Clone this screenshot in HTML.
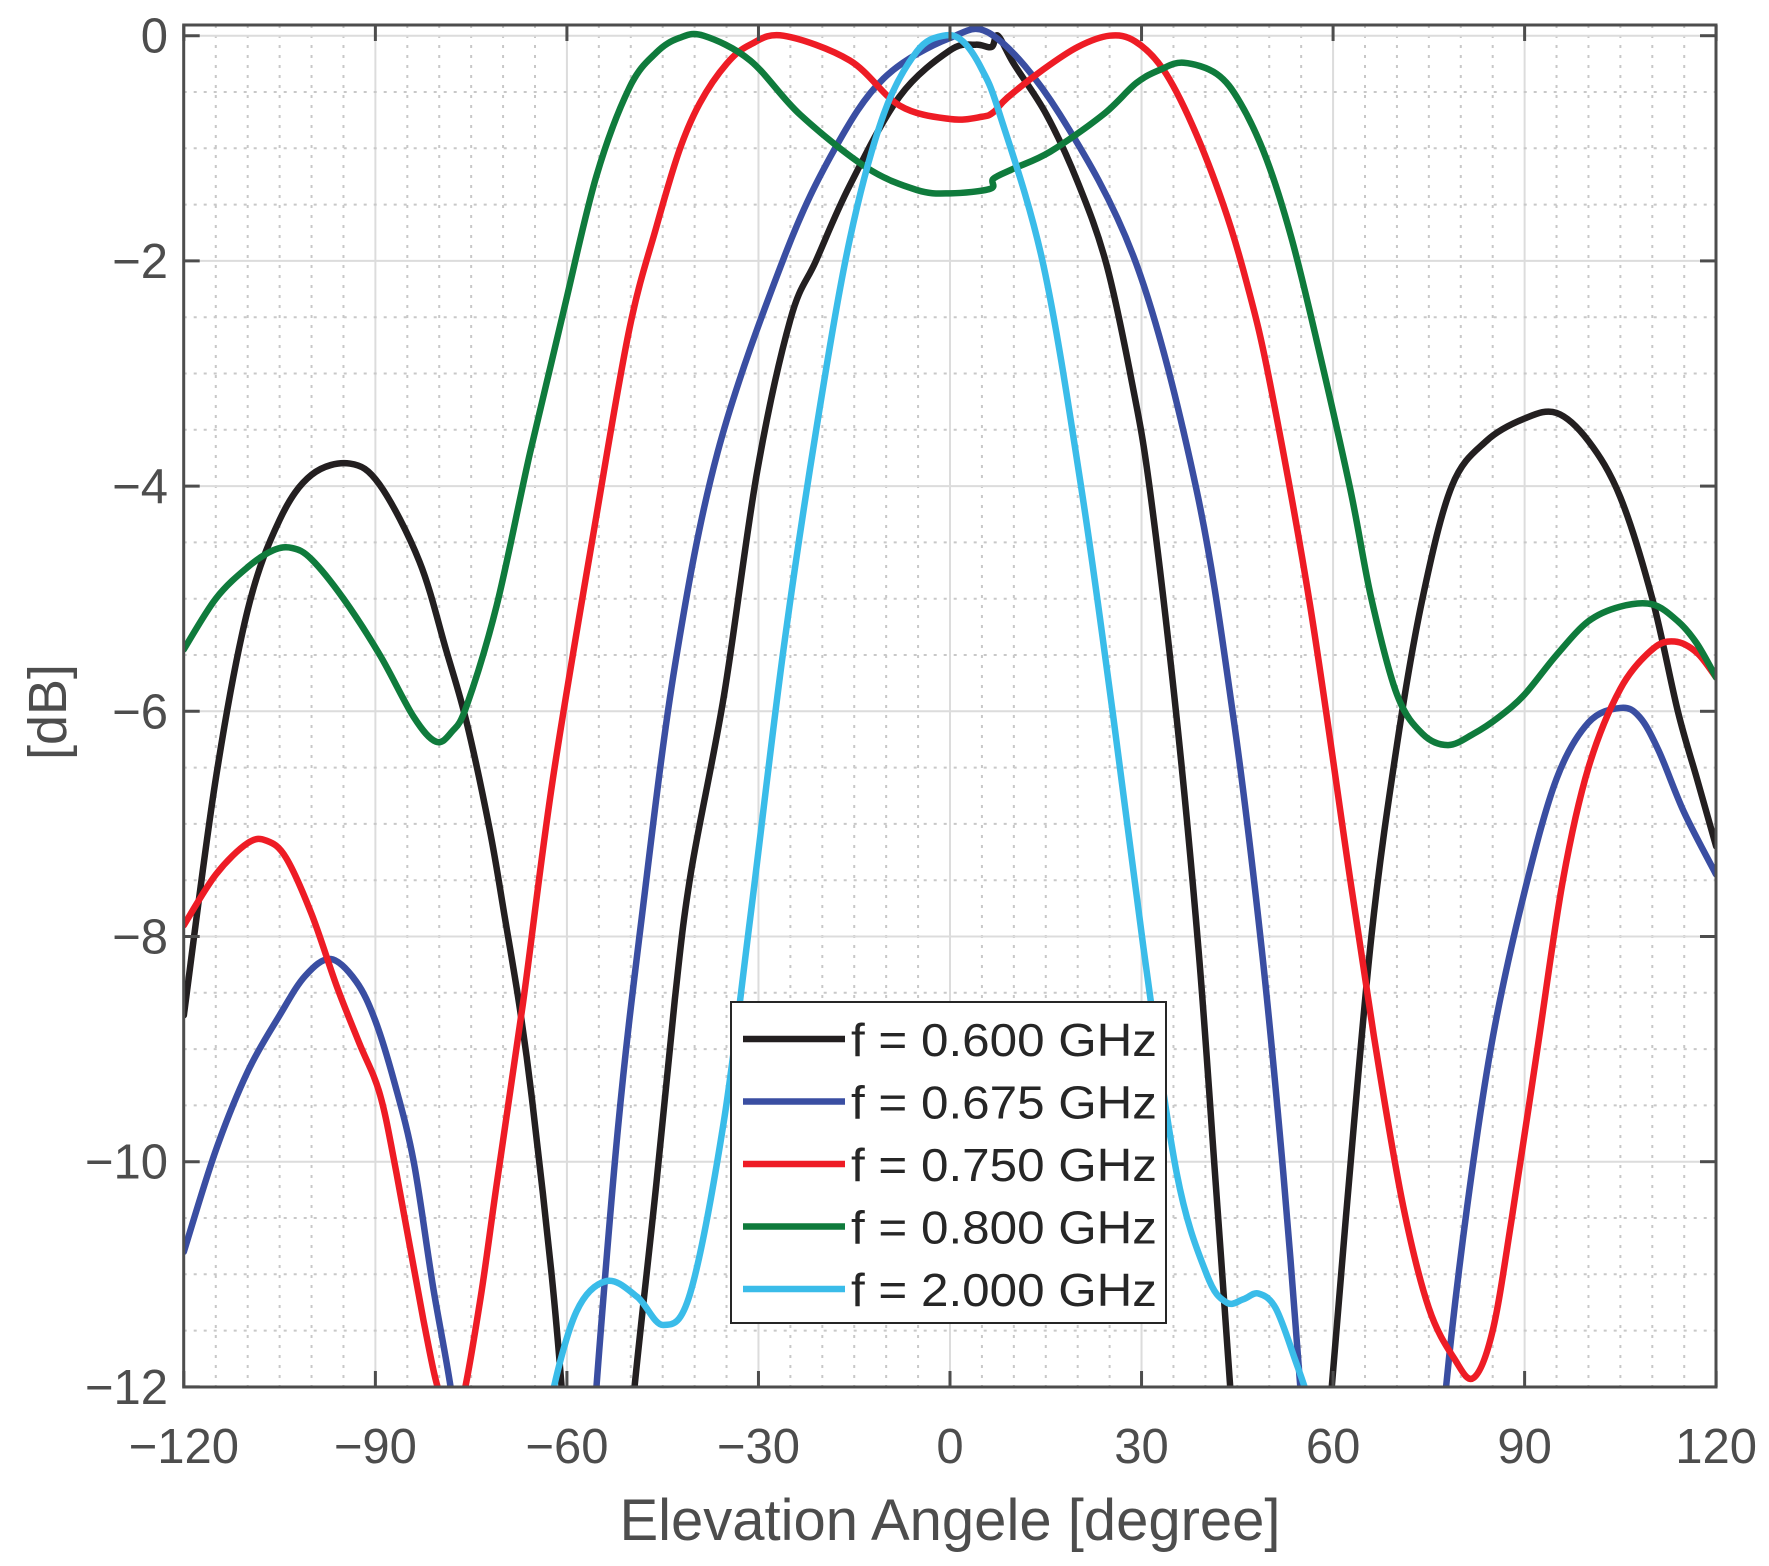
<!DOCTYPE html>
<html><head><meta charset="utf-8"><style>
html,body{margin:0;padding:0;background:#fff;}
svg{display:block;font-family:"Liberation Sans",Arial,sans-serif;}
</style></head><body>
<svg id="s" width="1769" height="1566" viewBox="0 0 1769 1566" xmlns="http://www.w3.org/2000/svg">
<defs><clipPath id="c"><rect x="183.7" y="25" width="1532.3" height="1362"/></clipPath></defs>
<rect x="0" y="0" width="1769" height="1566" fill="#fff"/>
<g id="grid"></g>
<g id="curves" clip-path="url(#c)" fill="none" stroke-width="6.5" stroke-linejoin="round" stroke-linecap="round"></g>
<rect x="183.7" y="25" width="1532.3" height="1362" fill="none" stroke="#4d4d4d" stroke-width="3"/>
<g id="ticks" stroke="#4d4d4d" stroke-width="3"></g>
<g id="labels" fill="#4d4d4d" font-size="49"></g>
<text x="950" y="1540" text-anchor="middle" fill="#4d4d4d" font-size="58">Elevation Angele [degree]</text>
<text transform="translate(66,712) rotate(-90)" text-anchor="middle" fill="#4d4d4d" font-size="54">[dB]</text>
<g id="legend">
<rect x="731" y="1002" width="435" height="321" fill="#fff" stroke="#262626" stroke-width="2"/>
</g>
</svg>
<script>
const X=d=>950+d*6.3846, Y=v=>35.7-v*112.6;
const NS="http://www.w3.org/2000/svg";
function el(p,t,a,txt){const e=document.createElementNS(NS,t);for(const k in a)e.setAttribute(k,a[k]);if(txt!==undefined)e.textContent=txt;document.getElementById(p).appendChild(e);return e;}
for(let d=-115;d<120;d+=5){const maj=d%30==0;el("grid","line",{x1:X(d),x2:X(d),y1:25,y2:1387,stroke:maj?"#dcdcdc":"#c8c8c8","stroke-width":2,"stroke-dasharray":maj?"none":"3,7"});}
for(let v=0;v>-12;v-=0.5){const maj=Math.abs(v%2)<1e-9;el("grid","line",{x1:183.7,x2:1716,y1:Y(v),y2:Y(v),stroke:maj?"#dcdcdc":"#c8c8c8","stroke-width":2,"stroke-dasharray":maj?"none":"3,7"});}
for(let d=-120;d<=120;d+=30){el("ticks","line",{x1:X(d),x2:X(d),y1:1387,y2:1371});el("ticks","line",{x1:X(d),x2:X(d),y1:25,y2:41});
 el("labels","text",{x:X(d),y:1463,"text-anchor":"middle"},(d<0?"\u2212":"")+Math.abs(d));}
for(let v=0;v>=-12;v-=2){el("ticks","line",{x1:183.7,x2:199.7,y1:Y(v),y2:Y(v)});el("ticks","line",{x1:1716,x2:1700,y1:Y(v),y2:Y(v)});
 el("labels","text",{x:168,y:Y(v)+17,"text-anchor":"end"},(v<0?"\u2212":"")+Math.abs(v));}
function path(pts){const P=pts.map(p=>[X(p[0]),Y(p[1])]);let s="M"+P[0][0]+","+P[0][1];
 for(let i=0;i<P.length-1;i++){const p0=P[i-1]||P[i],p1=P[i],p2=P[i+1],p3=P[i+2]||P[i+1];
  s+=" C"+(p1[0]+(p2[0]-p0[0])/6)+","+(p1[1]+(p2[1]-p0[1])/6)+" "+(p2[0]-(p3[0]-p1[0])/6)+","+(p2[1]-(p3[1]-p1[1])/6)+" "+p2[0]+","+p2[1];}
 return s;}
const black1=[[-120,-8.7],[-115,-6.6],[-110,-5.1],[-105,-4.3],[-100,-3.9],[-94,-3.8],[-89.3,-3.99],[-83.1,-4.67],[-78.9,-5.46],[-75.7,-6.1],[-72.1,-7.05],[-69.7,-7.84],[-67.4,-8.63],[-65.5,-9.43],[-62.4,-11.0],[-60.6,-12.17],[-60,-12.8]];
const black2=[[-50.5,-13],[-49.7,-12.17],[-46,-10.2],[-43.1,-8.56],[-40.6,-7.44],[-35.4,-5.86],[-30.2,-3.87],[-25,-2.52],[-21,-2.0],[-15.7,-1.33],[-7.9,-0.54],[0,-0.13],[4,-0.08],[6.5,-0.1],[7.5,0],[10,-0.25],[15.1,-0.7],[20,-1.3],[24.5,-2.03],[28.5,-3.08],[31.3,-4.03],[35.5,-6.06],[38.9,-8.1],[41.5,-10.1],[44.1,-12.17],[45,-13]];
const black3=[[58.5,-13],[59.5,-12.2],[62,-10.5],[66,-8],[70,-6.3],[74,-5],[78.6,-4],[84,-3.6],[90,-3.4],[95,-3.35],[100,-3.6],[105,-4.1],[110,-5],[114,-6],[117,-6.6],[120,-7.2]];
const blue1=[[-120,-10.8],[-115,-9.9],[-110,-9.2],[-105,-8.7],[-101,-8.35],[-97,-8.2],[-93,-8.4],[-90,-8.75],[-87,-9.3],[-84,-10],[-81,-11.1],[-77.8,-12.17],[-77,-13]];
const blue2=[[-56.3,-13],[-55.6,-12.17],[-52,-9.7],[-48.3,-7.84],[-43.1,-5.6],[-36.4,-3.7],[-26,-1.97],[-18.2,-1.02],[-10.4,-0.38],[0,-0.02],[6.8,0],[17.2,-0.7],[29.2,-2.03],[38.6,-4.03],[44.4,-6.06],[48.8,-8.1],[52.2,-10.1],[55.1,-12.17],[56,-13]];
const blue3=[[76.5,-13],[77.7,-12],[81,-10.4],[85,-8.9],[90,-7.6],[95,-6.6],[100,-6.1],[105,-5.97],[108,-6.05],[111,-6.35],[115,-6.9],[120,-7.45]];
const red1=[[-120,-7.9],[-115,-7.45],[-110,-7.17],[-107,-7.15],[-104,-7.3],[-100,-7.8],[-96,-8.45],[-92.5,-8.95],[-89.3,-9.4],[-86.7,-10.1],[-82.5,-11.4],[-80,-12.05],[-78,-12.2],[-76.3,-12.1],[-73.5,-11.2],[-71,-10.2],[-66.9,-8.6],[-62.2,-6.6],[-55.4,-4.27],[-50.2,-2.6],[-46,-1.7],[-42.4,-1.02],[-39.2,-0.6],[-35,-0.25],[-31.3,-0.08],[-26.1,0],[-15.7,-0.22],[-7.9,-0.62],[0,-0.74],[5,-0.72],[6.8,-0.68],[9,-0.55],[14.6,-0.3],[20,-0.1],[25,0],[29,-0.05],[33.4,-0.3],[38,-0.8],[42.8,-1.5],[46.5,-2.2],[50.1,-3.08],[56.4,-5.06],[62.7,-7.5],[67,-9.1],[71,-10.4],[75,-11.3],[79,-11.75],[82,-11.92],[85,-11.5],[88,-10.5],[92,-9],[96,-7.5],[100,-6.5],[105,-5.8],[110,-5.45],[113.5,-5.38],[117,-5.48],[120,-5.7]];
const green=[[-120,-5.45],[-115,-5.0],[-110,-4.72],[-106,-4.57],[-103,-4.55],[-100,-4.65],[-95,-5.0],[-89.3,-5.5],[-84,-6.05],[-80.5,-6.27],[-78,-6.18],[-75.7,-5.95],[-71,-5.06],[-65.8,-3.71],[-60.5,-2.44],[-55.4,-1.25],[-50.2,-0.46],[-46,-0.15],[-42.4,-0.02],[-38.6,0],[-31.3,-0.22],[-23.5,-0.7],[-13.1,-1.17],[-5.2,-1.37],[0,-1.4],[6.3,-1.36],[6.8,-1.27],[10,-1.18],[15.7,-1.03],[24,-0.7],[29.2,-0.42],[33,-0.3],[36.6,-0.24],[41.8,-0.34],[45.5,-0.6],[49.6,-1.1],[53.5,-1.8],[57.4,-2.7],[62.7,-4.03],[66,-5.0],[70,-5.85],[74,-6.2],[78,-6.3],[82,-6.2],[86,-6.05],[90,-5.85],[95,-5.5],[100,-5.2],[105,-5.07],[110,-5.05],[114,-5.2],[117,-5.4],[120,-5.7]];
const cyan=[[-63,-12.6],[-62.4,-12.1],[-58.5,-11.33],[-53.8,-11.06],[-49,-11.2],[-44.9,-11.45],[-40.7,-11.17],[-35.5,-9.67],[-31.3,-7.84],[-26.1,-5.46],[-20.9,-3.48],[-15.7,-1.81],[-10.4,-0.7],[-5.2,-0.14],[-1,0],[2,-0.05],[5,-0.3],[7.8,-0.7],[14.6,-2.03],[20.6,-4.03],[25.6,-6.06],[30.3,-8.1],[35.5,-10.1],[40.2,-11.0],[43.3,-11.25],[46,-11.22],[48.3,-11.17],[51,-11.3],[54,-11.75],[56.4,-12.17],[57.5,-12.6]];
const C={k:"#231f20",b:"#3a4ea2",r:"#ee1c25",g:"#0f7b3c",c:"#3abce9"};
[[black1,C.k],[black2,C.k],[black3,C.k],[blue1,C.b],[blue2,C.b],[blue3,C.b],[red1,C.r],[green,C.g],[cyan,C.c]].forEach(a=>el("curves","path",{d:path(a[0]),stroke:a[1]}));
const L=[["f = 0.600 GHz",C.k],["f = 0.675 GHz",C.b],["f = 0.750 GHz",C.r],["f = 0.800 GHz",C.g],["f = 2.000 GHz",C.c]];
L.forEach((l,i)=>{const y=1039+i*62.5;el("legend","line",{x1:743,x2:845,y1:y,y2:y,stroke:l[1],"stroke-width":6.5});
 el("legend","text",{x:851,y:y+17,"font-size":46,fill:"#262626",textLength:306,lengthAdjust:"spacingAndGlyphs"},l[0]);});
</script>
</body></html>
